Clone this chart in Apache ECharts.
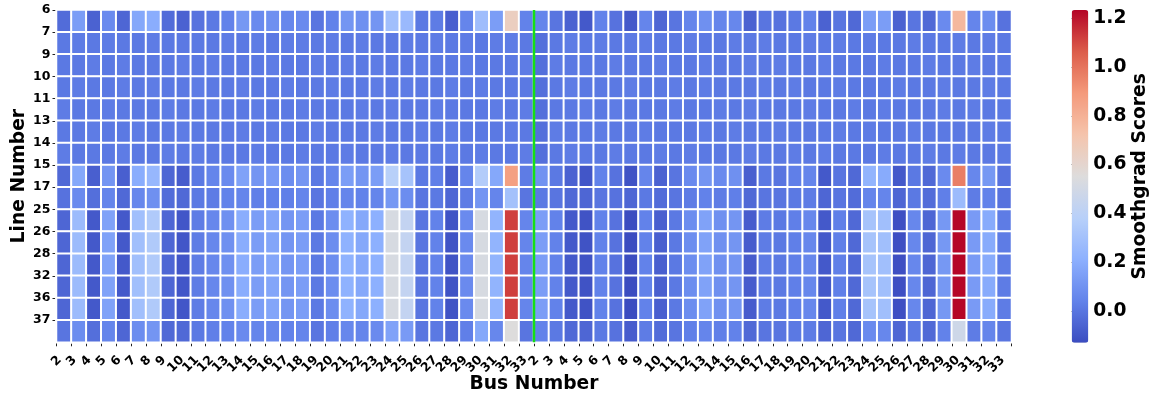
<!DOCTYPE html>
<html>
<head>
<meta charset="utf-8">
<script src="https://cdn.jsdelivr.net/npm/echarts@6/dist/echarts.min.js"></script>
<style>
  html, body { margin: 0; padding: 0; background: #ffffff; }
  #chart { width: 1156px; height: 395px; }
</style>
</head>
<body>
<div id="chart"></div>
<script>
// Row labels (transmission lines) and column labels (buses, two blocks of 2..33)
const lineLabels = ['6', '7', '9', '10', '11', '13', '14', '15', '17', '25', '26', '28', '32', '36', '37'];
const busLabels = [
  '2', '3', '4', '5', '6', '7', '8', '9', '10', '11', '12', '13', '14', '15', '16', '17',
  '18', '19', '20', '21', '22', '23', '24', '25', '26', '27', '28', '29', '30', '31', '32', '33',
  '2', '3', '4', '5', '6', '7', '8', '9', '10', '11', '12', '13', '14', '15', '16', '17',
  '18', '19', '20', '21', '22', '23', '24', '25', '26', '27', '28', '29', '30', '31', '32', '33'
];

// Smoothgrad scores, one array per line, 64 bus columns each
const line6 = [
  -0.03, 0.14, -0.06, 0.07, -0.05, 0.18, 0.20, -0.03, -0.06, -0.01, 0.01, 0.04, 0.12, 0.07, 0.09, 0.06,
  0.07, 0.00, 0.04, 0.11, 0.09, 0.11, 0.29, 0.26, 0.01, 0.02, -0.07, 0.05, 0.28, 0.14, 0.65, 0.04,
  0.05, 0.00, -0.06, -0.09, 0.04, -0.01, -0.09, 0.05, -0.05, 0.00, 0.05, 0.09, 0.05, 0.06, -0.06, 0.00,
  -0.01, 0.01, 0.04, -0.06, 0.00, -0.04, 0.14, 0.14, -0.06, 0.00, -0.04, 0.07, 0.77, 0.05, 0.08, -0.01
];
const line7 = [
  0.01, 0.02, 0.01, 0.02, 0.01, 0.01, 0.02, 0.01, 0.01, 0.01, 0.01, 0.02, 0.01, 0.02, 0.01, 0.02,
  0.02, 0.01, 0.02, 0.01, 0.02, 0.01, 0.01, 0.02, 0.01, 0.02, 0.01, 0.02, 0.01, 0.02, 0.02, 0.01,
  -0.02, 0.01, 0.02, 0.01, 0.02, 0.01, 0.01, 0.02, 0.01, 0.01, 0.02, 0.01, 0.01, 0.02, 0.01, 0.02,
  0.01, 0.01, 0.02, 0.01, 0.02, 0.01, 0.02, 0.01, 0.01, 0.02, 0.01, 0.01, 0.02, 0.01, 0.02, 0.01
];
const line9 = [
  0.01, 0.01, 0.02, 0.01, 0.02, 0.01, 0.01, 0.01, 0.02, 0.01, 0.02, 0.01, 0.01, 0.01, 0.02, 0.01,
  0.01, 0.02, 0.01, 0.02, 0.01, 0.02, 0.01, 0.01, 0.02, 0.01, 0.01, 0.02, 0.01, 0.01, 0.01, 0.02,
  -0.02, 0.02, 0.01, 0.01, 0.01, 0.02, 0.01, 0.01, 0.02, 0.01, 0.01, 0.02, 0.01, 0.01, 0.02, 0.01,
  0.02, 0.01, 0.01, 0.02, 0.01, 0.01, 0.01, 0.02, 0.01, 0.01, 0.02, 0.01, 0.01, 0.02, 0.01, 0.01
];
const line10 = [
  0.01, 0.02, 0.01, 0.01, 0.02, 0.01, 0.02, 0.01, 0.01, 0.02, 0.01, 0.01, 0.02, 0.01, 0.01, 0.02,
  0.01, 0.01, 0.02, 0.01, 0.01, 0.02, 0.01, 0.02, 0.01, 0.01, 0.02, 0.01, 0.02, 0.01, 0.01, 0.01,
  -0.02, 0.01, 0.02, 0.01, 0.01, 0.01, 0.02, 0.01, 0.01, 0.02, 0.01, 0.02, 0.01, 0.01, 0.01, 0.02,
  0.01, 0.02, 0.01, 0.01, 0.02, 0.01, 0.01, 0.01, 0.02, 0.01, 0.01, 0.02, 0.01, 0.01, 0.02, 0.01
];
const line11 = [
  0.02, 0.01, 0.01, 0.02, 0.01, 0.01, 0.01, 0.02, 0.01, 0.01, 0.02, 0.01, 0.01, 0.02, 0.01, 0.01,
  0.02, 0.01, 0.01, 0.01, 0.02, 0.01, 0.02, 0.01, 0.01, 0.02, 0.01, 0.01, 0.01, 0.02, 0.01, 0.02,
  -0.02, 0.01, 0.01, 0.02, 0.01, 0.02, 0.01, 0.01, 0.01, 0.02, 0.01, 0.01, 0.02, 0.01, 0.02, 0.01,
  0.01, 0.01, 0.02, 0.01, 0.01, 0.02, 0.01, 0.02, 0.01, 0.01, 0.01, 0.02, 0.01, 0.02, 0.01, 0.01
];
const line13 = [
  0.01, 0.01, 0.02, 0.01, 0.01, 0.02, 0.01, 0.01, 0.02, 0.01, 0.01, 0.01, 0.02, 0.01, 0.02, 0.01,
  0.01, 0.02, 0.01, 0.01, 0.01, 0.02, 0.01, 0.01, 0.02, 0.01, 0.02, 0.01, 0.01, 0.01, 0.02, 0.01,
  -0.02, 0.02, 0.01, 0.01, 0.02, 0.01, 0.01, 0.02, 0.01, 0.01, 0.01, 0.02, 0.01, 0.02, 0.01, 0.01,
  0.02, 0.01, 0.01, 0.01, 0.02, 0.01, 0.02, 0.01, 0.01, 0.02, 0.01, 0.01, 0.01, 0.01, 0.02, 0.01
];
const line14 = [
  0.02, 0.01, 0.01, 0.01, 0.02, 0.01, 0.01, 0.02, 0.01, 0.02, 0.01, 0.01, 0.01, 0.02, 0.01, 0.01,
  0.02, 0.01, 0.01, 0.02, 0.01, 0.01, 0.02, 0.01, 0.01, 0.01, 0.02, 0.01, 0.02, 0.01, 0.01, 0.02,
  -0.02, 0.01, 0.02, 0.01, 0.01, 0.02, 0.01, 0.01, 0.02, 0.01, 0.02, 0.01, 0.01, 0.01, 0.02, 0.01,
  0.01, 0.02, 0.01, 0.02, 0.01, 0.01, 0.01, 0.02, 0.01, 0.01, 0.02, 0.01, 0.02, 0.01, 0.01, 0.01
];
const line15 = [
  -0.04, 0.18, -0.07, 0.11, -0.07, 0.20, 0.25, -0.05, -0.08, 0.01, 0.05, 0.07, 0.16, 0.11, 0.13, 0.08,
  0.11, 0.01, 0.05, 0.14, 0.11, 0.14, 0.38, 0.31, 0.01, 0.03, -0.08, 0.05, 0.36, 0.18, 0.87, 0.02,
  0.10, 0.01, -0.06, -0.10, 0.04, -0.01, -0.11, 0.05, -0.06, 0.00, 0.07, 0.11, 0.07, 0.09, -0.07, 0.01,
  0.00, 0.03, 0.05, -0.09, 0.00, -0.04, 0.23, 0.19, -0.09, 0.01, -0.04, 0.07, 0.97, 0.06, 0.12, -0.01
];
const line17 = [
  -0.01, 0.07, -0.02, 0.05, -0.04, 0.06, 0.09, -0.03, -0.04, 0.01, 0.02, 0.04, 0.05, 0.03, 0.04, 0.03,
  0.05, 0.00, 0.03, 0.05, 0.04, 0.05, 0.12, 0.08, 0.00, 0.01, -0.05, 0.02, 0.11, 0.05, 0.30, 0.00,
  0.01, 0.00, -0.04, -0.05, 0.00, -0.01, -0.05, 0.01, -0.03, 0.00, 0.02, 0.04, 0.02, 0.03, -0.04, 0.00,
  0.00, 0.01, 0.02, -0.05, 0.00, -0.03, 0.05, 0.05, -0.05, 0.01, -0.03, 0.03, 0.27, 0.02, 0.04, -0.01
];
const line25 = [
  -0.05, 0.27, -0.09, 0.16, -0.09, 0.29, 0.35, -0.05, -0.10, 0.02, 0.06, 0.09, 0.20, 0.14, 0.17, 0.11,
  0.14, 0.01, 0.08, 0.22, 0.18, 0.21, 0.52, 0.43, 0.00, 0.04, -0.11, 0.07, 0.52, 0.23, 1.12, 0.05,
  0.14, 0.04, -0.09, -0.11, 0.04, -0.01, -0.13, 0.04, -0.07, 0.01, 0.08, 0.16, 0.09, 0.11, -0.08, 0.02,
  0.01, 0.03, 0.06, -0.09, 0.03, -0.04, 0.31, 0.29, -0.12, 0.06, -0.05, 0.12, 1.23, 0.13, 0.19, 0.02
];
const line26 = [
  -0.05, 0.27, -0.09, 0.16, -0.09, 0.29, 0.35, -0.05, -0.10, 0.02, 0.06, 0.09, 0.20, 0.14, 0.17, 0.11,
  0.14, 0.01, 0.08, 0.22, 0.18, 0.21, 0.52, 0.43, 0.00, 0.04, -0.11, 0.07, 0.52, 0.23, 1.12, 0.05,
  0.14, 0.04, -0.09, -0.11, 0.04, -0.01, -0.13, 0.04, -0.07, 0.01, 0.08, 0.16, 0.09, 0.11, -0.08, 0.02,
  0.01, 0.03, 0.06, -0.09, 0.03, -0.04, 0.31, 0.29, -0.12, 0.06, -0.05, 0.12, 1.23, 0.13, 0.19, 0.02
];
const line28 = [
  -0.05, 0.27, -0.09, 0.16, -0.09, 0.29, 0.35, -0.05, -0.10, 0.02, 0.06, 0.09, 0.20, 0.14, 0.17, 0.11,
  0.14, 0.01, 0.08, 0.22, 0.18, 0.21, 0.52, 0.43, 0.00, 0.04, -0.11, 0.07, 0.52, 0.23, 1.12, 0.05,
  0.14, 0.04, -0.09, -0.11, 0.04, -0.01, -0.13, 0.04, -0.07, 0.01, 0.08, 0.16, 0.09, 0.11, -0.08, 0.02,
  0.01, 0.03, 0.06, -0.09, 0.03, -0.04, 0.31, 0.29, -0.12, 0.06, -0.05, 0.12, 1.23, 0.13, 0.19, 0.02
];
const line32 = [
  -0.05, 0.27, -0.09, 0.16, -0.09, 0.29, 0.35, -0.05, -0.10, 0.02, 0.06, 0.09, 0.20, 0.14, 0.17, 0.11,
  0.14, 0.01, 0.08, 0.22, 0.18, 0.21, 0.52, 0.43, 0.00, 0.04, -0.11, 0.07, 0.52, 0.23, 1.12, 0.05,
  0.14, 0.04, -0.09, -0.11, 0.04, -0.01, -0.13, 0.04, -0.07, 0.01, 0.08, 0.16, 0.09, 0.11, -0.08, 0.02,
  0.01, 0.03, 0.06, -0.09, 0.03, -0.04, 0.31, 0.29, -0.12, 0.06, -0.05, 0.12, 1.23, 0.13, 0.19, 0.02
];
const line36 = [
  -0.05, 0.27, -0.09, 0.16, -0.09, 0.29, 0.35, -0.05, -0.10, 0.02, 0.06, 0.09, 0.20, 0.14, 0.17, 0.11,
  0.14, 0.01, 0.08, 0.22, 0.18, 0.21, 0.52, 0.43, 0.00, 0.04, -0.11, 0.07, 0.52, 0.23, 1.12, 0.05,
  0.14, 0.04, -0.09, -0.11, 0.04, -0.01, -0.13, 0.04, -0.07, 0.01, 0.08, 0.16, 0.09, 0.11, -0.08, 0.02,
  0.01, 0.03, 0.06, -0.09, 0.03, -0.04, 0.31, 0.29, -0.12, 0.06, -0.05, 0.12, 1.23, 0.13, 0.19, 0.02
];
const line37 = [
  0.00, 0.08, -0.02, 0.05, -0.05, 0.08, 0.11, -0.04, -0.04, 0.01, 0.03, 0.04, 0.07, 0.05, 0.06, 0.04,
  0.05, 0.00, 0.03, 0.06, 0.05, 0.07, 0.16, 0.13, 0.00, 0.01, -0.05, 0.03, 0.18, 0.06, 0.55, 0.00,
  0.04, 0.01, -0.04, -0.05, 0.01, -0.01, -0.08, 0.02, -0.03, 0.00, 0.03, 0.05, 0.03, 0.04, -0.04, 0.00,
  0.00, 0.01, 0.02, -0.05, 0.00, -0.04, 0.07, 0.06, -0.05, 0.01, -0.04, 0.04, 0.48, 0.02, 0.05, 0.00
];

const scoreRows = [line6, line7, line9, line10, line11, line13, line14, line15, line17,
                   line25, line26, line28, line32, line36, line37];

// Colour scale limits and colorbar ticks
const scoreMin = -0.131;
const scoreMax = 1.234;
const colorbarTicks = [0.0, 0.2, 0.4, 0.6, 0.8, 1.0, 1.2];
// Boundary (in columns) between the two bus blocks
const blockDivider = 32;

const cells = [];
scoreRows.forEach((row, r) => row.forEach((v, c) => cells.push([c, r, v])));

const coolwarm = ['#3b4cc0', '#6282ea', '#8db0fe', '#b8d0f9', '#dddcdc',
                  '#f5c4ac', '#f49a7b', '#dc5d4a', '#b40426'];
const FONT = 'DejaVu Sans';
const BOLD = { fontFamily: FONT, fontWeight: 'bold', color: '#000' };

const gridLeft = 56.5, gridTop = 10, gridW = 955, gridH = 332.3;
const cbLeft = 1071.7, cbW = 16.6, cbH = 332.7;

const chart = echarts.init(document.getElementById('chart'), null, { renderer: 'canvas' });

chart.setOption({
  animation: false,
  backgroundColor: '#ffffff',
  textStyle: { fontFamily: FONT },
  grid: [
    { left: gridLeft, top: gridTop, width: gridW, height: gridH, containLabel: false, outerBoundsMode: 'none' },
    { left: cbLeft, top: gridTop, width: cbW, height: cbH, containLabel: false, outerBoundsMode: 'none' }
  ],
  xAxis: [
    { type: 'category', gridIndex: 0, data: busLabels.map((_, i) => String(i)), show: false },
    {
      type: 'value', gridIndex: 0, min: 0, max: busLabels.length, interval: 1, position: 'bottom',
      axisLine: { show: false },
      splitLine: { show: false },
      axisTick: { show: true, length: 4, lineStyle: { color: '#222', width: 1 } },
      axisLabel: {
        show: true, rotate: 45, align: 'center', verticalAlign: 'middle', margin: 22,
        fontSize: 12.5, fontWeight: 'bold', color: '#000', fontFamily: FONT,
        formatter: (v) => {
          const t = busLabels[v];
          if (t === undefined) return '';
          return t.length === 1 ? '{s|' + t + '}' : '{d|' + t + '}';
        },
        rich: {
          s: { fontSize: 12.5, fontWeight: 'bold', fontFamily: FONT, color: '#000', padding: [0, 0, 4.5, 4.5] },
          d: { fontSize: 12.5, fontWeight: 'bold', fontFamily: FONT, color: '#000' }
        }
      },
      name: 'Bus Number', nameLocation: 'middle', nameGap: 32.5, nameMoveOverlap: false,
      nameTextStyle: Object.assign({ fontSize: 18.7 }, BOLD)
    },
    { type: 'value', gridIndex: 1, min: 0, max: 1, show: false }
  ],
  yAxis: [
    { type: 'category', gridIndex: 0, inverse: true, data: lineLabels.map((_, i) => String(i)), show: false },
    {
      type: 'value', gridIndex: 0, position: 'left', min: 0, max: lineLabels.length, interval: 1, inverse: true,
      axisLine: { show: false },
      splitLine: { show: false },
      axisTick: {
        show: true, length: 4, lineStyle: { color: '#222', width: 1 },
        customValues: lineLabels.map((_, i) => i)
      },
      axisLabel: {
        show: true, margin: 6, fontSize: 12.5, fontWeight: 'bold', color: '#000', fontFamily: FONT,
        customValues: lineLabels.map((_, i) => i),
        formatter: (v) => lineLabels[v] === undefined ? '' : lineLabels[v]
      },
      name: 'Line Number', nameLocation: 'middle', nameGap: 28, nameMoveOverlap: false,
      nameTextStyle: Object.assign({ fontSize: 18.7 }, BOLD)
    },
    {
      type: 'value', gridIndex: 1, min: scoreMin, max: scoreMax, position: 'right',
      axisLine: { show: false },
      splitLine: { show: false },
      axisTick: {
        show: true, length: 4, lineStyle: { color: '#222', width: 1 },
        customValues: colorbarTicks
      },
      axisLabel: {
        show: true, margin: 5, fontSize: 18.7, fontWeight: 'bold', color: '#000', fontFamily: FONT,
        customValues: colorbarTicks,
        formatter: (v) => v.toFixed(1)
      },
      name: 'Smoothgrad Scores', nameLocation: 'middle', nameGap: 42,
      nameTextStyle: Object.assign({ fontSize: 18.7 }, BOLD)
    }
  ],
  visualMap: {
    type: 'continuous',
    seriesIndex: 0,
    dimension: 2,
    min: scoreMin,
    max: scoreMax,
    calculable: false,
    orient: 'vertical',
    left: cbLeft,
    top: gridTop,
    itemWidth: cbW,
    itemHeight: cbH,
    padding: 0,
    inRange: { color: coolwarm }
  },
  series: [
    {
      type: 'heatmap',
      xAxisIndex: 0,
      yAxisIndex: 0,
      data: cells,
      itemStyle: { borderColor: '#ffffff', borderWidth: 2 },
      emphasis: { disabled: true },
      silent: true
    },
    {
      type: 'line',
      xAxisIndex: 1,
      yAxisIndex: 1,
      data: [[blockDivider, 0], [blockDivider, lineLabels.length]],
      symbol: 'none',
      lineStyle: { color: '#14e014', width: 2.5 },
      z: 5,
      silent: true
    },
    {
      type: 'scatter',
      xAxisIndex: 2,
      yAxisIndex: 2,
      data: []
    }
  ]
});
</script>
</body>
</html>
